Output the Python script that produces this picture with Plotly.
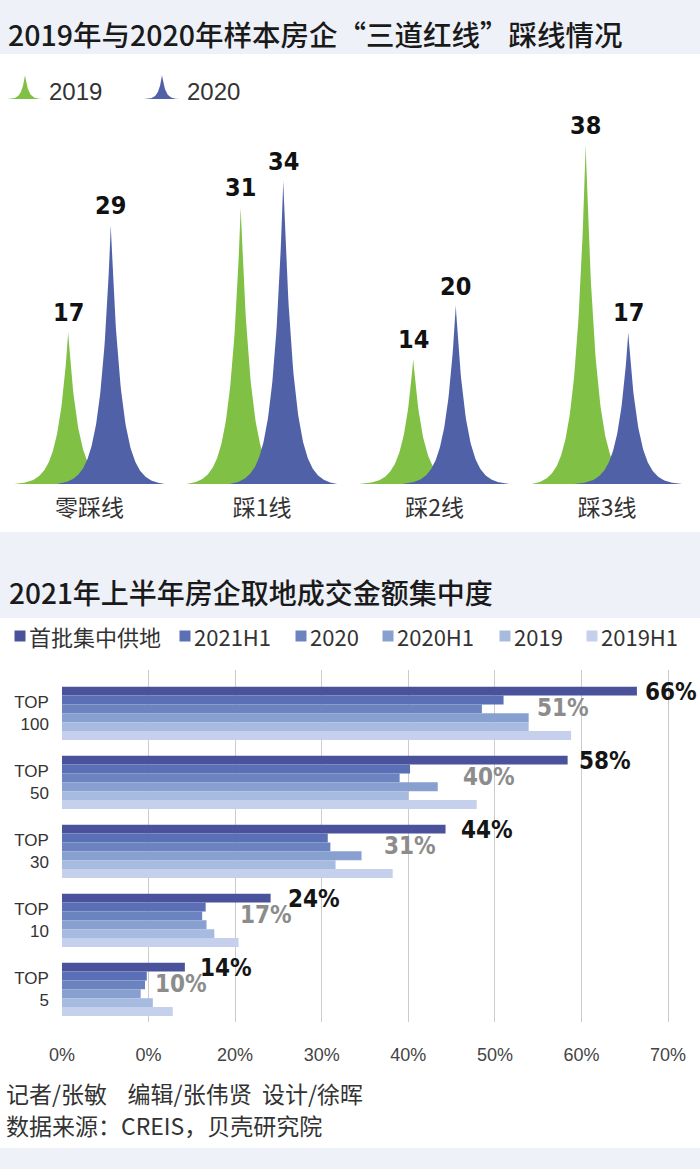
import numpy as np
import plotly.graph_objects as go

W, H = 700, 1169

# ---------------- Chart 1 data ----------------
line_cats = ["零踩线", "踩1线", "踩2线", "踩3线"]
years = ["2019", "2020"]
vals_2019 = [17, 31, 14, 38]
vals_2020 = [29, 34, 20, 17]

# ---------------- Chart 2 data ----------------
tiers = ["TOP<br>100", "TOP<br>50", "TOP<br>30", "TOP<br>10", "TOP<br>5"]
series_names = ["首批集中供地", "2021H1", "2020", "2020H1", "2019", "2019H1"]
s_first = [66.4, 58.4, 44.3, 24.1, 14.2]
s_2021h1 = [51.0, 40.2, 30.7, 16.6, 9.8]
s_2020 = [48.5, 39.0, 31.0, 16.2, 9.6]
s_2020h1 = [53.9, 43.4, 34.6, 16.7, 9.1]
s_2019 = [53.9, 40.0, 31.6, 17.6, 10.5]
s_2019h1 = [58.8, 47.9, 38.2, 20.4, 12.8]
x_tickvals = [0, 10, 20, 30, 40, 50, 60, 70]
x_ticktext = ["0%", "0%", "20%", "30%", "40%", "50%", "60%", "70%"]

title1 = "2019年与2020年样本房企“三道红线”踩线情况"
title2 = "2021年上半年房企取地成交金额集中度"
credit = "记者/张敏&nbsp;&nbsp;&nbsp; 编辑/张伟贤&nbsp; 设计/徐晖"
source = "数据来源：CREIS，贝壳研究院"

# ---------------- styles ----------------
BAND = "#eef1f8"
GREEN = "#80c145"
BLUE = "#5061a8"
BAR_COLORS = ["#4a529c", "#5a6fb5", "#6b84c0", "#87a0d0", "#a6bbdf", "#c5d1ec"]
CJK = "Noto Sans CJK SC, sans-serif"
LAT = "Liberation Sans, Arial, sans-serif"
NARROW = "DejaVu Sans Condensed, Liberation Sans Narrow, sans-serif"


def py(p):
    return 1 - p / H


# spike geometry (in axis units)
K = 5.3
PEAK_OFF = 0.1235
HALF_W = 0.313


def spike(center, value, hw, n=201):
    w = np.linspace(-1, 1, n)
    y = value * (np.exp(-K * np.abs(w)) - np.exp(-K)) / (1 - np.exp(-K))
    return center + w * hw, y


fig = go.Figure()

# ---- chart 1: spikes
for vals, color, off in [(vals_2019, GREEN, -PEAK_OFF), (vals_2020, BLUE, PEAK_OFF)]:
    for i, v in enumerate(vals):
        xs, ys = spike(i + off, v, HALF_W)
        fig.add_trace(go.Scatter(x=xs, y=ys, mode="lines", fill="toself",
                                 fillcolor=color, line=dict(width=0, color=color),
                                 hoverinfo="skip", xaxis="x", yaxis="y"))
        fig.add_annotation(x=i + off, y=v, xref="x", yref="y", text=str(v),
                           showarrow=False, yanchor="bottom", yshift=3,
                           font=dict(family=NARROW, size=25, color="#111111", weight="bold"))

# ---- chart 1 legend icons (pixel axis x3/y3)
for label, color, cx, tx in [(years[0], GREEN, 25, 47), (years[1], BLUE, 162, 185)]:
    xs, ys = spike(cx, 24, 18)
    fig.add_trace(go.Scatter(x=xs, y=99 - ys, mode="lines", fill="toself",
                             fillcolor=color, line=dict(width=0, color=color),
                             hoverinfo="skip", xaxis="x3", yaxis="y3"))
    fig.add_annotation(x=tx, y=91, xref="x3", yref="y3", text=label, showarrow=False,
                       xanchor="left", yanchor="middle",
                       font=dict(family=LAT, size=24, color="#333333"))

# ---- chart 2: bars
series_vals = [s_first, s_2021h1, s_2020, s_2020h1, s_2019, s_2019h1]
for name, vals, color in zip(series_names, series_vals, BAR_COLORS):
    fig.add_trace(go.Bar(x=vals, y=tiers, orientation="h", name=name,
                         marker=dict(color=color, line=dict(width=0)),
                         hoverinfo="skip", xaxis="x2", yaxis="y2"))

black_dx = [6, 9, 13, 15, 13]
gray_dx = [31, 51, 54, 32, 6]
for i, t in enumerate(tiers):
    fig.add_annotation(x=s_first[i], y=t, xref="x2", yref="y2",
                       text=f"{round(s_first[i])}%", showarrow=False,
                       xanchor="left", yanchor="middle", xshift=black_dx[i], yshift=21,
                       font=dict(family=NARROW, size=24, color="#151515", weight="bold"))
    fig.add_annotation(x=s_2021h1[i], y=t, xref="x2", yref="y2",
                       text=f"{round(s_2021h1[i])}%", showarrow=False,
                       xanchor="left", yanchor="middle", xshift=gray_dx[i], yshift=5,
                       font=dict(family=NARROW, size=24, color="#8c8c8c", weight="bold"))

# ---- chart 2 legend (pixel axis)
leg_text_x = [31, 196, 312, 399, 516, 603]
fig.add_trace(go.Scatter(x=[v - 11 for v in leg_text_x], y=[636] * 6, mode="markers",
                         marker=dict(symbol="square", size=11, color=BAR_COLORS),
                         hoverinfo="skip", xaxis="x3", yaxis="y3"))
for name, tx in zip(series_names, leg_text_x):
    fig.add_annotation(x=tx - 4, y=636, xref="x3", yref="y3", text=name, showarrow=False,
                       xanchor="left", yanchor="middle",
                       font=dict(family=CJK, size=22, color="#333333"))

# ---- titles & footer
fig.add_annotation(x=6, y=33, xref="x3", yref="y3", text=title1, showarrow=False,
                   xanchor="left", yanchor="middle",
                   font=dict(family=CJK, size=28.5, color="#1a1a1a", weight=500))
fig.add_annotation(x=7, y=592, xref="x3", yref="y3", text=title2, showarrow=False,
                   xanchor="left", yanchor="middle",
                   font=dict(family=CJK, size=28, color="#1a1a1a", weight=500))
fig.add_annotation(x=4, y=1093, xref="x3", yref="y3", text=credit, showarrow=False,
                   xanchor="left", yanchor="middle",
                   font=dict(family=CJK, size=23, color="#333333"))
fig.add_annotation(x=4, y=1125, xref="x3", yref="y3", text=source, showarrow=False,
                   xanchor="left", yanchor="middle",
                   font=dict(family=CJK, size=23, color="#333333"))

# ---- background bands
for y0, y1 in [(0, 54), (532, 618), (1148, 1169)]:
    fig.add_shape(type="rect", xref="paper", yref="paper", x0=0, x1=1,
                  y0=py(y1), y1=py(y0), fillcolor=BAND, line_width=0, layer="below")

x2_left = 61.9
px_per_pct = 8.66

fig.update_layout(
    width=W, height=H, margin=dict(l=0, r=0, t=0, b=0, pad=0, autoexpand=False),
    paper_bgcolor="white", plot_bgcolor="rgba(0,0,0,0)",
    showlegend=False, barmode="group", bargap=0.227, bargroupgap=0,
    font=dict(family=CJK, color="#222222"),
    xaxis=dict(domain=[0, 1], range=[-89.5 / 172.5, (W - 89.5) / 172.5],
               tickvals=list(range(len(line_cats))), ticktext=line_cats,
               showgrid=False, zeroline=False, showline=False, ticks="",
               ticklabelstandoff=8, tickfont=dict(family=CJK, size=23, color="#333333"),
               automargin=False, anchor="y"),
    yaxis=dict(domain=[py(484), py(105)], range=[0, (484 - 105) / 8.92], visible=False,
               automargin=False, anchor="x"),
    xaxis2=dict(domain=[x2_left / W, 1], range=[0, (W - x2_left) / px_per_pct],
                tickvals=x_tickvals, ticktext=x_ticktext, showgrid=True,
                gridcolor="#cccccc", gridwidth=1, zeroline=False, showline=False,
                ticks="", ticklabelstandoff=20, automargin=False,
                tickfont=dict(family=LAT, size=18, color="#444444"), anchor="y2"),
    yaxis2=dict(domain=[py(1022), py(670)], type="category", categoryorder="array",
                categoryarray=tiers, range=[4.474, -0.628], showgrid=False,
                zeroline=False, showline=False, ticks="", ticklabelstandoff=12,
                automargin=False,
                tickfont=dict(family=LAT, size=17, color="#333333"), anchor="x2"),
    xaxis3=dict(domain=[0, 1], range=[0, W], visible=False, automargin=False, anchor="y3"),
    yaxis3=dict(domain=[0, 1], range=[H, 0], visible=False, automargin=False, anchor="x3"),
)

fig.write_html("out.html", config={"displayModeBar": False},
               post_script="document.body.style.margin='0';document.body.style.padding='0';")
